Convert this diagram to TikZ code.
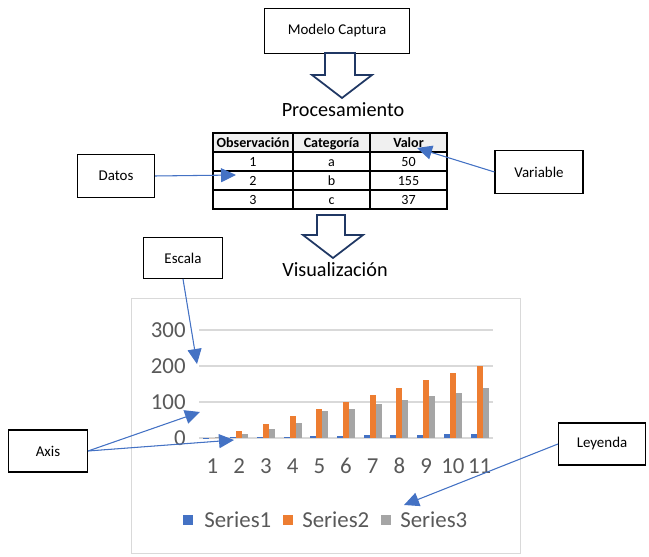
\documentclass[tikz,border=0pt]{standalone}
\usepackage{fontspec}
\setmainfont{Carlito}
\usetikzlibrary{arrows.meta, positioning, calc}
\definecolor{callblue}{RGB}{68,114,196}
\definecolor{navy}{RGB}{32,56,100}
\definecolor{serA}{RGB}{68,114,196}
\definecolor{serB}{RGB}{237,125,49}
\definecolor{serC}{RGB}{165,165,165}
\definecolor{gridgray}{RGB}{217,217,217}
\definecolor{txtgray}{RGB}{89,89,89}
\tikzset{
  lbl/.style={rectangle, draw=black, semithick, text centered,
    font=\fontsize{8.5}{10}\selectfont, inner sep=2pt},
  cell/.style={rectangle, draw=black, semithick, minimum height=0.38cm,
    minimum width=1.54cm, font=\fontsize{8}{9}\selectfont, inner sep=0pt,
    text height=1.5ex, text depth=0.3ex},
  cellH/.style={cell, fill=gray!12, font=\fontsize{8}{9}\selectfont\bfseries},
  callout/.style={-{Triangle[length=3mm, width=2.8mm]}, semithick, draw=callblue, fill=callblue},
  hollow/.style={draw=navy, line width=1pt, line join=miter, fill=white},
  stage/.style={font=\fontsize{11.5}{13}\selectfont},
  axlbl/.style={font=\fontsize{13}{15}\selectfont, text=txtgray, inner sep=0pt},
}

\begin{document}
\begin{tikzpicture}[x=0.2mm, y=-0.2mm]
  \useasboundingbox (0,0) rectangle (649,557);

  % Top block and first stage
  \node[lbl, minimum width=2.9cm, minimum height=0.9cm] (modelo) at (337,31) {Modelo Captura};
  \draw[hollow] (325,53) -- (325,75) -- (312,75) -- (342,98) -- (372,75) -- (355,75) -- (355,53) -- cycle;
  \node[stage] (proc) at (343,110) {Procesamiento};

  % Data table
  \node[cellH, minimum width=1.6cm] (h1) at (253,142.5) {Observación};
  \node[cellH] (h2) at (331.5,142.5) {Categoría};
  \node[cellH] (h3) at (408.5,142.5) {Valor};
  \foreach \n/\cat/\val [count=\k] in {1/a/50, 2/b/155, 3/c/37} {
    \pgfmathsetmacro\yy{142.5+19*\k}
    \node[cell, minimum width=1.6cm] (r\k a) at (253,\yy) {\n};
    \node[cell] (r\k b) at (331.5,\yy) {\cat};
    \node[cell] (r\k c) at (408.5,\yy) {\val};
  }

  % Side labels for the table
  \node[lbl, minimum width=1.54cm, minimum height=0.86cm] (datos) at (116,176) {Datos};
  \node[lbl, minimum width=1.76cm, minimum height=0.86cm] (variable) at (539,172) {Variable};
  \coordinate (datosTip) at (236,175);
  \coordinate (valorTip) at (417,148);
  \draw[callout] (datos.east) -- (datosTip);
  \draw[callout] (variable.west) -- (valorTip);

  % Second stage
  \draw[hollow] (317,215) -- (317,235) -- (303,235) -- (333,258) -- (363,235) -- (345,235) -- (345,215) -- cycle;
  \node[stage] (visu) at (335,270) {Visualización};

  % Chart frame and grid
  \draw[gridgray] (131,298) rectangle (520,553);
  \foreach \v in {0,100,200,300} {
    \draw[gridgray, thick] (199,438-0.36*\v) -- (493,438-0.36*\v);
    \node[axlbl, anchor=east] (y\v) at (186,438-0.36*\v) {\v};
  }

  % Bars
  \foreach \i/\c in {1/2, 2/11, 3/25, 4/42, 5/75, 6/80, 7/94, 8/105, 9/117, 10/125, 11/139} {
    \pgfmathsetmacro\cx{199+(\i-0.5)*26.73}
    \fill[serA] (\cx-9,438) rectangle (\cx-3,438-0.36*\i);
    \fill[serB] (\cx-3,438) rectangle (\cx+3,438-0.36*20*\i+0.36*20);
    \fill[serC] (\cx+3,438) rectangle (\cx+9,438-0.36*\c);
    \node[axlbl] (x\i) at (\cx,466) {\i};
  }

  % Legend
  \fill[serA] (183,515) rectangle (193,525);
  \node[axlbl, anchor=west] (s1) at (204,520) {Series1};
  \fill[serB] (283,515) rectangle (293,525);
  \node[axlbl, anchor=west] (s2) at (302,520) {Series2};
  \fill[serC] (381,515) rectangle (391,525);
  \node[axlbl, anchor=west] (s3) at (400,520) {Series3};

  % Chart callouts
  \node[lbl, minimum width=1.58cm, minimum height=0.82cm] (escala) at (183,258) {Escala};
  \node[lbl, minimum width=1.58cm, minimum height=0.84cm] (axis) at (48,451) {Axis};
  \node[lbl, minimum width=1.74cm, minimum height=0.84cm] (leyenda) at (602,444) {Leyenda};
  \coordinate (escalaTip) at (197,364);
  \coordinate (axisTipA) at (200,412);
  \coordinate (axisTipB) at (234,440);
  \coordinate (leyTip) at (404,505);
  \draw[callout] (escala.south) -- (escalaTip);
  \draw[callout] (axis.east) -- (axisTipA);
  \draw[callout] (axis.east) -- (axisTipB);
  \draw[callout] (leyenda.west) -- (leyTip);
\end{tikzpicture}
\end{document}
